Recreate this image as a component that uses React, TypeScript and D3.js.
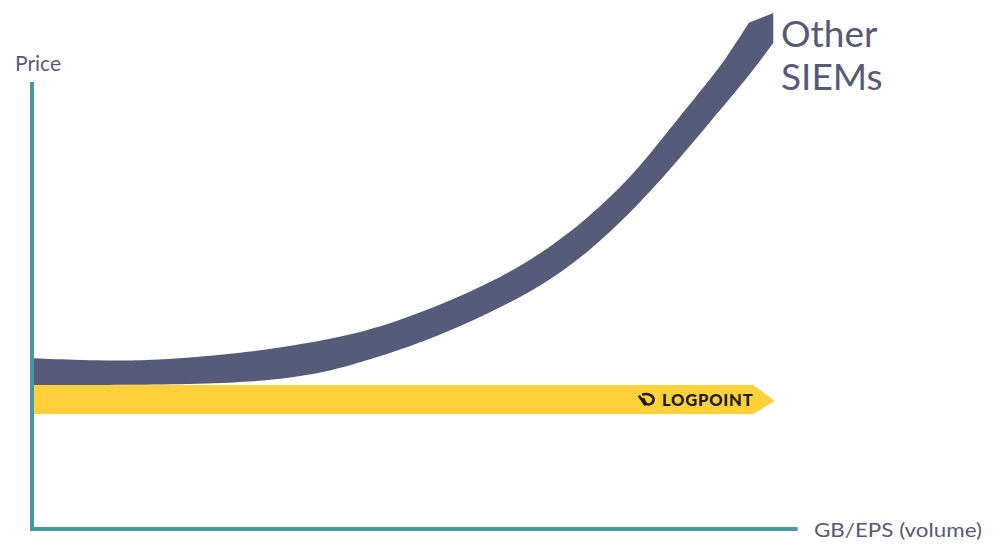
import React from "react";
import * as d3 from "d3";

// Volume (x) on 0–100, price (y) on 0–100
const otherTopVolume = [0, 8.9, 15.7, 29.2, 42.7, 49.5, 54.9, 61.6, 68.4, 75.1, 79.9, 82.6, 90.9, 93.4, 96.6];
const otherTopPrice = [33.1, 32.6, 32.6, 34.1, 37.4, 40.5, 43.4, 47.7, 53.1, 60.5, 67.2, 71.5, 86.4, 90.9, 98.1];
const otherBottomVolume = [0, 24.2, 35.9, 42.7, 49.5, 54.9, 61.6, 68.4, 75.1, 82.2, 87.3, 91.6, 95.8, 98.1, 99.9];
const otherBottomPrice = [27.9, 27.9, 29.3, 31.6, 34.7, 37.6, 41.9, 46.9, 53.7, 63.6, 71.9, 79.3, 86.4, 90.7, 94.2];
const otherTip = [99.9, 100];

const logpointVolume = [0, 97.2];
const logpointTop = 27.9;
const logpointBottom = 22.3;
const logpointTip = [100.1, 24.8];

const axisLabels = { y: "Price", x: "GB/EPS (volume)" };
const seriesLabels = { other: ["Other", "SIEMs"], logpoint: "LOGPOINT" };

const W = 1000;
const H = 557;

export default function App() {
  const x = d3.scaleLinear().domain([0, 100]).range([34, 774]);
  const y = d3.scaleLinear().domain([0, 100]).range([529, 13]);

  const curve = d3.line<[number, number]>()
    .x((d) => x(d[0]))
    .y((d) => y(d[1]))
    .curve(d3.curveBasis);

  const topPts: [number, number][] = otherTopVolume.map((v, i) => [v, otherTopPrice[i]]);
  const botPts: [number, number][] = otherBottomVolume.map((v, i) => [v, otherBottomPrice[i]] as [number, number]).reverse();
  const topD = curve(topPts) || "";
  const botD = (curve(botPts) || "").replace(/^M/, "L");
  const otherPath = `${topD}L${x(otherTip[0])},${y(otherTip[1])}${botD}Z`;

  const lpPath = [
    [logpointVolume[0], logpointTop],
    [logpointVolume[1], logpointTop],
    [logpointTip[0], logpointTip[1]],
    [logpointVolume[1], logpointBottom],
    [logpointVolume[0], logpointBottom],
  ]
    .map((p, i) => `${i ? "L" : "M"}${x(p[0])},${y(p[1])}`)
    .join("") + "Z";

  const axisColor = "#4a96a3";
  const textColor = "#555a78";

  return (
    <svg
      width={W}
      height={H}
      style={{ position: "fixed", left: 0, top: 0, background: "#fff" }}
      fontFamily="Lato, 'Open Sans', sans-serif"
    >
      {/* bands */}
      <path d={otherPath} fill="#575b7a" />
      <path d={lpPath} fill="#fed03a" />

      {/* axes */}
      <line x1={x(0) - 2} x2={x(0) - 2} y1={82} y2={y(0) + 2} stroke={axisColor} strokeWidth={4} />
      <line x1={x(0) - 4} x2={x(103.2)} y1={y(0)} y2={y(0)} stroke={axisColor} strokeWidth={4} />

      {/* axis labels */}
      <text x={15} y={71} fontSize={21} fill={textColor}>{axisLabels.y}</text>
      <text x={814} y={537} fontSize={20} fill={textColor} textLength={168} lengthAdjust="spacingAndGlyphs">{axisLabels.x}</text>

      {/* series labels */}
      <text x={781} y={47} fontSize={37} fill={textColor}>{seriesLabels.other[0]}</text>
      <text x={781} y={90} fontSize={37} fill={textColor}>{seriesLabels.other[1]}</text>

      {/* logpoint logo */}
      <g fill="none" stroke="#1b1b1b" strokeWidth={2.6} strokeLinecap="round">
        <path d="M639.5,396.5 L645,404.5" />
        <path d="M643,394.5 C648,393 654,395.5 653.5,400 C653,404 648,406 645.5,403 L643.5,399" />
      </g>
      <text x={662} y={406} fontSize={16.5} fontWeight={900} fill="#1b1b1b" letterSpacing={0.8}>
        {seriesLabels.logpoint}
      </text>
    </svg>
  );
}
